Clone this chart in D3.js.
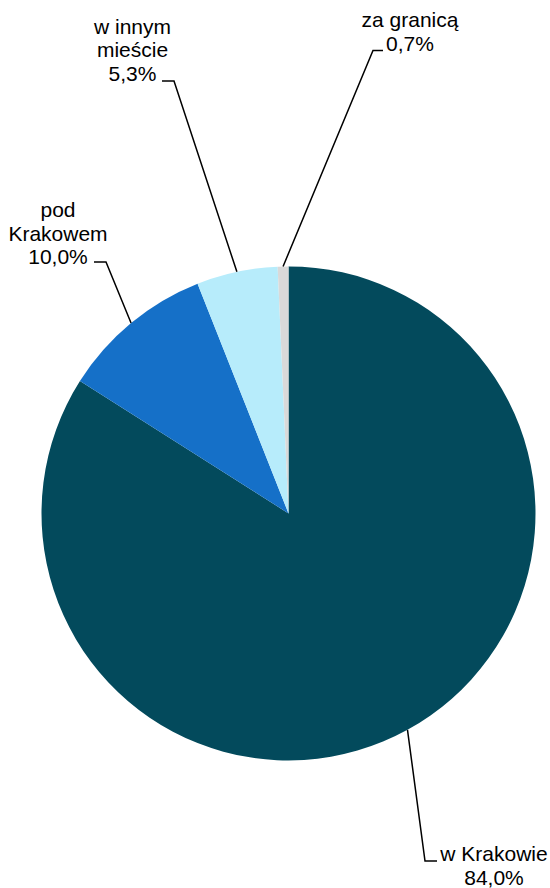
<!DOCTYPE html>
<html>
<head>
<meta charset="utf-8">
<script src="https://cdn.jsdelivr.net/npm/d3@7"></script>
<style>
  html, body { margin: 0; padding: 0; background: #fff; }
  svg { display: block; }
  text { font-family: "Liberation Sans", Arial, sans-serif; font-size: 21px; fill: #000; }
</style>
</head>
<body>
<svg id="chart" width="550" height="888"></svg>
<script>
// Where people live: share of respondents
const categories = ["w Krakowie", "pod Krakowem", "w innym mieście", "za granicą"];
const nameLines = [["w Krakowie"], ["pod", "Krakowem"], ["w innym", "mieście"], ["za granicą"]];
const shares = [84.0, 10.0, 5.3, 0.7];
const shareLabels = ["84,0%", "10,0%", "5,3%", "0,7%"];
const colors = ["#034a5c", "#1570c8", "#b7ecfb", "#d9d9d9"];

// Label placement: text centre x, first baseline y, leader-line elbow and the end of its short stub
const labelLayout = [
  { x: 494,   y: 861,  elbow: [425, 861],  stub: [437, 861] },
  { x: 58,    y: 217,  elbow: [106, 262],  stub: [94, 262] },
  { x: 132.5, y: 33.5, elbow: [174, 81],   stub: [162, 81] },
  { x: 410,   y: 27,   elbow: [373, 50.5], stub: [383, 50.5] }
];

const cx = 288.5, cy = 513.4, radius = 247, lineHeight = 23;

const svg = d3.select("#chart");
const g = svg.append("g").attr("transform", `translate(${cx},${cy})`);

const pie = d3.pie().sort(null).value(d => d.value).startAngle(0).endAngle(2 * Math.PI);
const arcs = pie(categories.map((c, i) => ({ name: c, value: shares[i], i })));

const arc = d3.arc().innerRadius(0).outerRadius(radius);
const edge = d3.arc().innerRadius(radius).outerRadius(radius);

g.selectAll("path.slice")
  .data(arcs)
  .join("path")
  .attr("class", "slice")
  .attr("d", arc)
  .attr("fill", d => colors[d.data.i]);

// Leader lines from the middle of each slice's rim to its label
const line = d3.line();
svg.selectAll("path.leader")
  .data(arcs)
  .join("path")
  .attr("class", "leader")
  .attr("fill", "none")
  .attr("stroke", "#000")
  .attr("stroke-width", 1.5)
  .attr("d", d => {
    const [px, py] = edge.centroid(d);
    const L = labelLayout[d.data.i];
    return line([[cx + px, cy + py], L.elbow, L.stub]);
  });

// Labels: category name lines followed by the share
const labels = svg.selectAll("text.label")
  .data(arcs)
  .join("text")
  .attr("class", "label")
  .attr("text-anchor", "middle");

labels.each(function (d) {
  const L = labelLayout[d.data.i];
  const lines = nameLines[d.data.i].concat([shareLabels[d.data.i]]);
  d3.select(this).selectAll("tspan")
    .data(lines)
    .join("tspan")
    .attr("x", L.x)
    .attr("y", (t, k) => L.y + k * (k === 0 ? 0 : 23.5))
    .text(t => t);
});
</script>
</body>
</html>
